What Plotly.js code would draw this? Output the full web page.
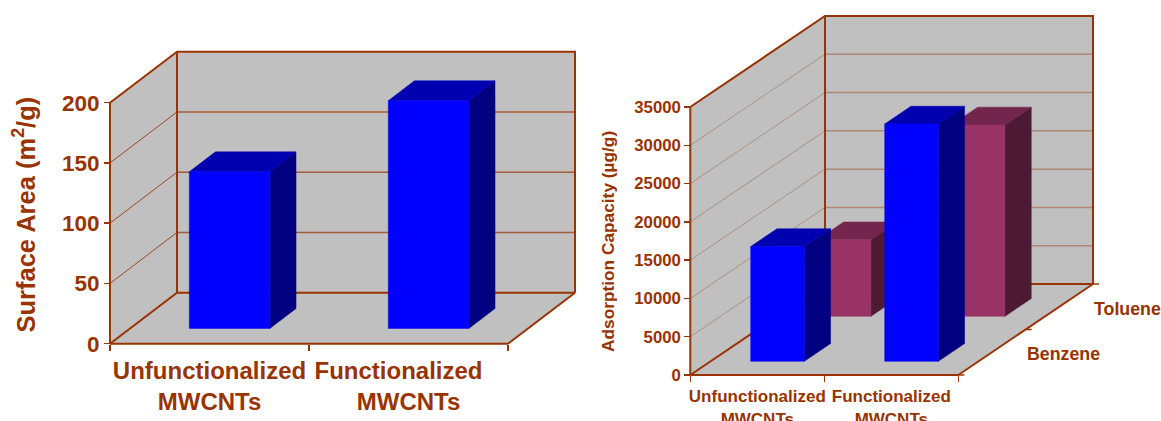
<!DOCTYPE html>
<html>
<head>
<meta charset="utf-8">
<script src="https://cdn.plot.ly/plotly-3.0.1.min.js"></script>
<style>html,body{margin:0;padding:0;background:#fff;overflow:hidden}</style>
</head>
<body>
<div id="chart" style="width:1161px;height:421px"></div>
<script>
// Category and value tables for the two panels
const categories = ['Unfunctionalized<br>MWCNTs', 'Functionalized<br>MWCNTs'];
const leftCategories = ['Unfunctionalized<br>MWCNTs', 'Functionalized\u00a0\u00a0\u00a0<br>MWCNTs'];
const surfaceArea = [130, 189];
const benzene = [15000, 31000];
const toluene = [10000, 25000];
const surfaceTicks = [0, 50, 100, 150, 200];
const capacityTicks = [0, 5000, 10000, 15000, 20000, 25000, 30000, 35000];
const seriesNames = ['Benzene', 'Toluene'];

const BROWN = '#993300';
const WALL = '#c0c0c0';
const FONT = 'Liberation Sans, Arial, sans-serif';
const W = 1161, H = 421;

const traces = [];

// Oblique projection: depth z (0 front .. 1 back) shifts a point along both axes
function projector(panel) {
  return (u, v, z) => [u + z * panel.depthX, v + z * panel.depthY];
}

function poly(panel, pts, fill, edge) {
  const p = projector(panel);
  const xy = pts.map(q => p(q[0], q[1], q[2]));
  traces.push({
    type: 'scatter', mode: edge ? 'lines' : 'none', xaxis: panel.x, yaxis: panel.y,
    x: xy.map(q => q[0]).concat(xy[0][0]), y: xy.map(q => q[1]).concat(xy[0][1]),
    fill: 'toself', fillcolor: fill, line: {color: edge || fill, width: 0.5},
    hoverinfo: 'skip', showlegend: false
  });
}

function lines(panel, segs, color, width) {
  const p = projector(panel);
  const xs = [], ys = [];
  segs.forEach(s => {
    s.forEach(q => { const r = p(q[0], q[1], q[2]); xs.push(r[0]); ys.push(r[1]); });
    xs.push(null); ys.push(null);
  });
  traces.push({
    type: 'scatter', mode: 'lines', xaxis: panel.x, yaxis: panel.y, x: xs, y: ys,
    line: {color, width}, hoverinfo: 'skip', showlegend: false
  });
}

// Walls, floor, gridlines and frame of the 3-D box
function box(panel, ticks, gridLeft, gridBack) {
  const top = ticks[ticks.length - 1], n = 2;
  poly(panel, [[0,0,0],[0,top,0],[0,top,1],[0,0,1]], WALL);
  poly(panel, [[0,0,1],[0,top,1],[n,top,1],[n,0,1]], WALL);
  poly(panel, [[0,0,0],[0,0,1],[n,0,1],[n,0,0]], WALL);
  const inner = ticks.slice(1, -1);
  lines(panel, inner.map(t => [[0,t,0],[0,t,1]]), gridLeft, 1);
  lines(panel, inner.map(t => [[0,t,1],[n,t,1]]), gridBack, 1.5);
  lines(panel, [
    [[0,0,0],[0,top,0],[0,top,1],[n,top,1],[n,0,1]],
    [[0,0,1],[0,top,1]],
    [[0,0,0],[0,0,1],[n,0,1]],
    [[n,0,0],[n,0,1]],
    [[0,0,0],[n,0,0]]
  ], BROWN, 2);
}

// One block: front, right side and top faces
function bar(panel, i, value, z0, z1, width, colors) {
  const a = i + 0.5 - width / 2, b = i + 0.5 + width / 2;
  poly(panel, [[b,0,z0],[b,0,z1],[b,value,z1],[b,value,z0]], colors[1], colors[1]);
  poly(panel, [[a,value,z0],[b,value,z0],[b,value,z1],[a,value,z1]], colors[2], colors[2]);
  poly(panel, [[a,0,z0],[b,0,z0],[b,value,z0],[a,value,z0]], colors[0], colors[0]);
}

const BLUE = ['#0000ff', '#000080', '#0000b0'];
const MAROON = ['#993366', '#4d1a33', '#73264d'];

// Left panel: front plane 110..508 px wide, 241 px for 0..200
const leftPanel = {x: 'x', y: 'y', depthX: 67 / 199, depthY: 51 * 200 / 241};
box(leftPanel, surfaceTicks, 'rgba(153,51,0,0.85)', 'rgba(153,51,0,0.7)');
surfaceArea.forEach((v, i) => bar(leftPanel, i, v, 0.30, 0.69, 0.405, BLUE));

// Right panel: front plane 690..958 px wide, 268 px for 0..35000
const rightPanel = {x: 'x2', y: 'y2', depthX: 134.7 / 134, depthY: 91 * 35000 / 268};
box(rightPanel, capacityTicks, 'rgba(153,51,0,0.35)', 'rgba(153,51,0,0.4)');
toluene.forEach((v, i) => bar(rightPanel, i, v, 0.645, 0.84, 0.4, MAROON));
benzene.forEach((v, i) => bar(rightPanel, i, v, 0.15, 0.345, 0.4, BLUE));

// Depth-axis tick marks along the right floor edge
const tickRun = 6 / 134;
lines(rightPanel, [0, 0.5, 1].map(z => [[2, 0, z], [2 + tickRun, 0, z]]), BROWN, 1.5);

const tickFont = size => ({family: FONT, size, color: BROWN, weight: 700});

// frame: plot rectangle in px; origin: px of (0,0); unit scales in px per axis unit
function xAxis(frame, x0, y0, pxCat, labels, size, len) {
  return {
    domain: [frame.l / W, frame.r / W],
    range: [(frame.l - x0) / pxCat, (frame.r - x0) / pxCat],
    anchor: 'free', position: (H - y0) / H,
    showgrid: false, zeroline: false, showline: false,
    tickmode: 'array', tickvals: [0.5, 1.5], ticktext: labels,
    ticks: 'outside', ticklen: len, tickwidth: 0, tickcolor: 'rgba(0,0,0,0)',
    tickfont: tickFont(size), tickangle: 0,
    minor: {tickmode: 'array', tickvals: [0, 1, 2], ticks: 'outside', ticklen: 6, tickwidth: 1.5, tickcolor: BROWN, showgrid: false}
  };
}
function yAxis(frame, x0, y0, pxVal, ticks, size) {
  return {
    domain: [(H - frame.b) / H, (H - frame.t) / H],
    range: [(y0 - frame.b) / pxVal, (y0 - frame.t) / pxVal],
    anchor: 'free', position: x0 / W,
    showgrid: false, zeroline: false, showline: false,
    tickmode: 'array', tickvals: ticks, ticktext: ticks.map(String),
    ticks: 'outside', ticklen: 6, tickwidth: 1.5, tickcolor: BROWN,
    tickfont: tickFont(size)
  };
}
function sideTitle(text, x, y, size) {
  return {
    xref: 'paper', yref: 'paper', x: x / W, y: (H - y) / H, text, textangle: -90,
    showarrow: false, xanchor: 'center', yanchor: 'middle', font: tickFont(size)
  };
}

const leftFrame = {l: 106, r: 585, t: 48, b: 348};
const rightFrame = {l: 686, r: 1105, t: 11, b: 379};

const layout = {
  width: W, height: H, margin: {l: 0, r: 0, t: 0, b: 0},
  paper_bgcolor: '#fff', plot_bgcolor: 'rgba(0,0,0,0)', showlegend: false,
  xaxis: xAxis(leftFrame, 110, 343.7, 199, leftCategories, 24, 5),
  yaxis: yAxis(leftFrame, 110, 343.7, 241 / 200, surfaceTicks, 22.5),
  xaxis2: xAxis(rightFrame, 690.3, 375, 134, categories, 17, 6),
  yaxis2: yAxis(rightFrame, 690.3, 375, 268 / 35000, capacityTicks, 16.8),
  annotations: [
    sideTitle('Surface Area (m<sup>2</sup>/g)', 24, 214.5, 25.5),
    sideTitle('Adsorption Capacity (µg/g)', 608, 242, 17.3)
  ].concat(seriesNames.map((name, s) => {
    const z = 0.25 + s * 0.5;
    return {
      xref: 'x2', yref: 'y2', x: 2 + z * rightPanel.depthX, y: z * rightPanel.depthY,
      text: name, showarrow: false, xanchor: 'left', yanchor: 'middle', xshift: 33, yshift: -2,
      font: tickFont(17.8)
    };
  }))
};

Plotly.newPlot('chart', traces, layout, {staticPlot: true, displayModeBar: false});
</script>
</body>
</html>
